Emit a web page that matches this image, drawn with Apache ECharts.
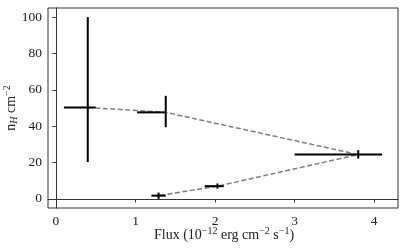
<!DOCTYPE html>
<html>
<head>
<meta charset="utf-8">
<script src="https://cdn.jsdelivr.net/npm/echarts@6/dist/echarts.min.js"></script>
<style>html,body{margin:0;padding:0;background:#fff;}#c{width:407px;height:250px;}</style>
</head>
<body>
<div id="c"></div>
<script>
// Data (flux in 1e-12 erg cm^-2 s^-1, nH in cm^-2)
const fluxVal = [0.40, 1.38, 3.80, 2.03, 1.29];
const fluxLo  = [0.10, 1.02, 3.00, 1.87, 1.20];
const fluxHi  = [0.50, 1.38, 4.10, 2.11, 1.38];
const nhVal   = [50.3, 47.6, 24.4, 7.0, 1.8];
const nhLo    = [20.3, 39.4, 22.2, 5.7, 0.0];
const nhHi    = [100.0, 56.7, 26.8, 8.5, 3.5];
const xTicks = [0, 1, 2, 3, 4];
const yTicks = [0, 20, 40, 60, 80, 100];
const xTitle = '{a|Flux (10}{s|−12}{a| erg cm}{s|−2}{a| s}{s|−1}{a|)}';
const yTitle = '{a|n}{h|H}{a| cm}{s|−2}';

const font = '"Liberation Serif", "DejaVu Serif", serif';
const chart = echarts.init(document.getElementById('c'), null, {renderer: 'canvas'});

const errData = fluxVal.map((x, i) => [x, nhVal[i], fluxLo[i], fluxHi[i], nhLo[i], nhHi[i]]);
const lineData = fluxVal.map((x, i) => [x, nhVal[i]]);
const rich = {
  a: {fontFamily: font, fontSize: 14, fill: '#222', color: '#222'},
  h: {fontFamily: font, fontSize: 10, fontStyle: 'italic', fill: '#222', color: '#222', padding: [6, 0, 0, 0]},
  s: {fontFamily: font, fontSize: 10, fill: '#222', color: '#222', padding: [0, 0, 8, 0]}
};

chart.setOption({
  animation: false,
  grid: {left: 48, right: 9, top: 8, bottom: 42, containLabel: false, outerBoundsMode: 'none',
         show: true, borderColor: '#333', borderWidth: 1},
  xAxis: {
    type: 'value', min: -0.1, max: 4.3,
    axisLine: {show: true, lineStyle: {color: '#333', width: 1}},
    axisTick: {show: true, length: 3.5, inside: false, customValues: xTicks, lineStyle: {color: '#333'}},
    axisLabel: {customValues: xTicks, margin: 6, color: '#222', fontFamily: font, fontSize: 13.5},
    splitLine: {show: false}
  },
  yAxis: {
    type: 'value', min: -5, max: 105,
    axisLine: {show: true, lineStyle: {color: '#333', width: 1}},
    axisTick: {show: true, length: 3.5, inside: false, customValues: yTicks, lineStyle: {color: '#333'}},
    axisLabel: {customValues: yTicks, margin: 6, color: '#222', fontFamily: font, fontSize: 13.5},
    splitLine: {show: false}
  },
  graphic: [
    {type: 'text', x: 224, y: 235, style: {text: xTitle, rich: rich, align: 'center', verticalAlign: 'middle'}},
    {type: 'text', x: 11, y: 108, rotation: Math.PI / 2,
     style: {text: yTitle, rich: rich, align: 'center', verticalAlign: 'middle'}}
  ],
  series: [
    {
      type: 'line', data: lineData, symbol: 'none', z: 1,
      lineStyle: {color: '#7f7f7f', width: 1.5, type: [5, 2.5]}
    },
    {
      type: 'custom', z: 3, data: errData,
      renderItem: function (params, api) {
        const x = api.value(0), y = api.value(1);
        const pL = api.coord([api.value(2), y]);
        const pR = api.coord([api.value(3), y]);
        const pB = api.coord([x, api.value(4)]);
        const pT = api.coord([x, api.value(5)]);
        const st = {stroke: '#000', lineWidth: 2};
        return {
          type: 'group',
          children: [
            {type: 'line', shape: {x1: pL[0], y1: pL[1], x2: pR[0], y2: pR[1]}, style: st},
            {type: 'line', shape: {x1: pB[0], y1: pB[1], x2: pT[0], y2: pT[1]}, style: st}
          ]
        };
      }
    }
  ]
});
</script>
</body>
</html>
